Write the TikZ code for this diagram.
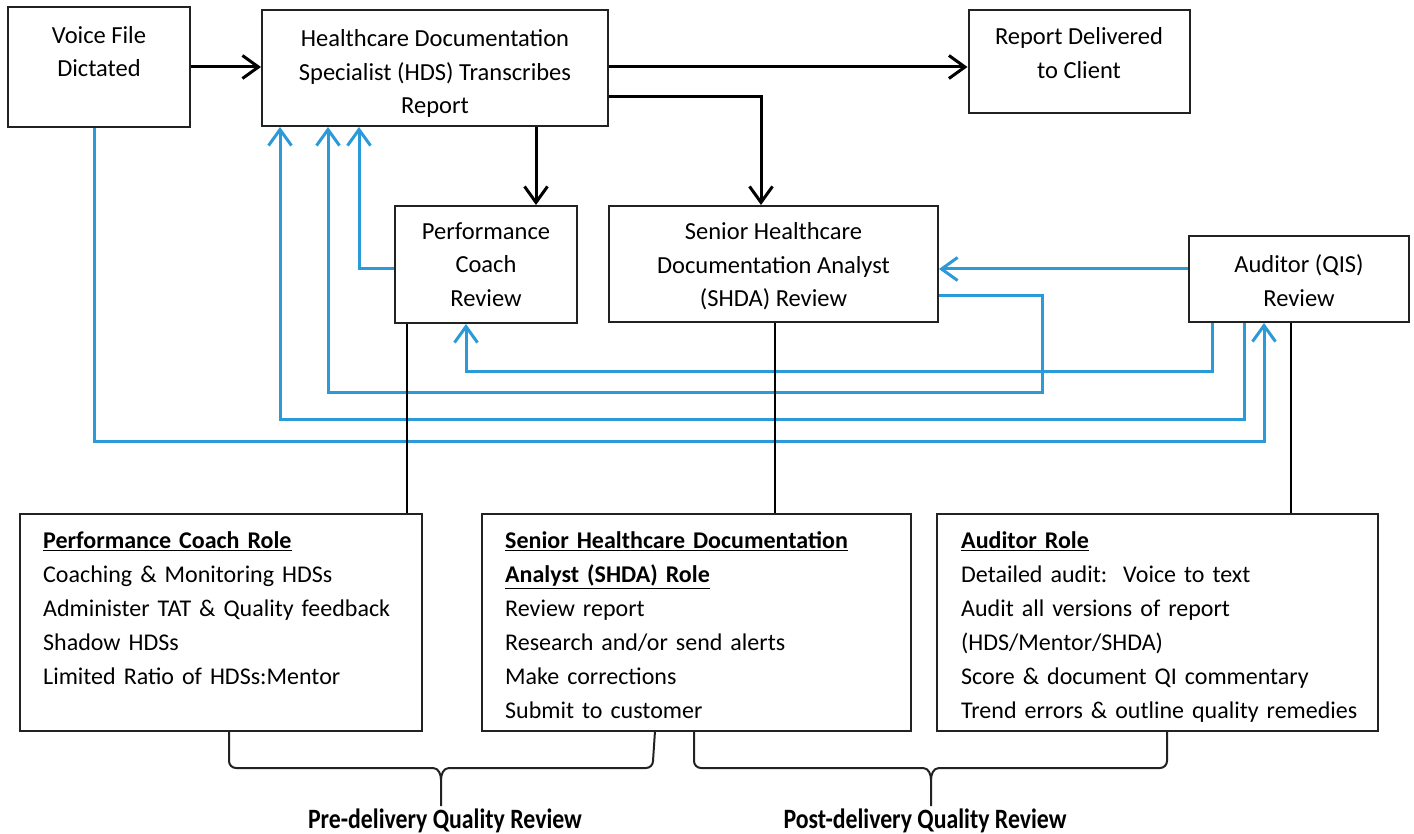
\documentclass[tikz,border=0pt]{standalone}
\usepackage{fontspec}
\setmainfont{Carlito}
\newfontfamily\condfont[FakeStretch=0.85]{Carlito}
\usetikzlibrary{arrows.meta}
\definecolor{cblue}{RGB}{43,154,216}
\definecolor{edge}{RGB}{34,34,34}
\begin{document}
\begin{tikzpicture}[x=1pt,y=-1pt,
  box/.style={draw=edge, line width=2pt, inner sep=0pt},
  ttext/.style={inner sep=0pt, anchor=north, align=center, font=\fontsize{24.5}{33.5}\selectfont},
  rtext/.style={inner sep=0pt, anchor=north west, align=left, text width=#1, font=\fontsize{24}{34}\selectfont},
  flow/.style={draw=black, line width=3pt, -{Straight Barb[length=16pt,width=23pt]}},
  fb/.style={draw=cblue, line width=3pt, -{Straight Barb[length=16pt,width=23pt]}},
  link/.style={draw=black, line width=1.6pt},
  brace/.style={draw=edge, line width=2pt},
  qlabel/.style={inner sep=0pt, anchor=north, font=\condfont\bfseries\fontsize{28}{30}\selectfont},
]
\useasboundingbox (0,0) rectangle (1414,834);

% ---- boxes
\node[box, minimum width=182pt, minimum height=120pt] (voice) at (99,67) {};
\node[box, minimum width=346pt, minimum height=116pt] (hds) at (435,68) {};
\node[box, minimum width=221pt, minimum height=103pt] (report) at (1079,61.5) {};
\node[box, minimum width=182pt, minimum height=117pt] (perf) at (486,264.5) {};
\node[box, minimum width=329pt, minimum height=116pt] (shda) at (773.5,264) {};
\node[box, minimum width=220pt, minimum height=86pt] (aud) at (1299,279) {};
\node[box, minimum width=402pt, minimum height=217pt] (prole) at (221,622.5) {};
\node[box, minimum width=429pt, minimum height=217pt] (srole) at (696.5,622.5) {};
\node[box, minimum width=441pt, minimum height=217pt] (arole) at (1157.5,622.5) {};

% ---- box texts
\node[ttext] (voicet) at (99,26) {Voice File\\Dictated};
\node[ttext] (hdst) at (435,29.5) {Healthcare Documentation\\Specialist (HDS) Transcribes\\Report};
\node[ttext] (reportt) at (1079,27.5) {Report Delivered\\to Client};
\node[ttext] (perft) at (486,222.5) {Performance\\Coach\\Review};
\node[ttext] (shdat) at (773.5,222.5) {Senior Healthcare\\Documentation Analyst\\(SHDA) Review};
\node[ttext] (audt) at (1299,254.5) {Auditor (QIS)\\Review};

\node[rtext=375pt] (prolet) at (43,531.5) {\textbf{\underline{Performance Coach Role}}\\
Coaching \& Monitoring HDSs\\
Administer TAT \& Quality feedback\\
Shadow HDSs\\
Limited Ratio of HDSs:Mentor};
\node[rtext=400pt] (srolet) at (505,531.5) {\textbf{\underline{Senior Healthcare Documentation}}\\
\textbf{\underline{Analyst (SHDA) Role}}\\
Review report\\
Research and/or send alerts\\
Make corrections\\
Submit to customer};
\node[rtext=415pt] (arolet) at (961,531.5) {\textbf{\underline{Auditor Role}}\\
Detailed audit:\ \ Voice to text\\
Audit all versions of report\\
(HDS/Mentor/SHDA)\\
Score \& document QI commentary\\
Trend errors \& outline quality remedies};

% ---- waypoints
\coordinate (perfin) at ([xshift=50pt]perf.north);
\coordinate (s2) at (1042,392);
\coordinate (a1) at (466,371);
\coordinate (a2) at (280,419);
\coordinate (v1) at (1264,441);

% ---- blue feedback connectors
\draw[fb] ([yshift=-4.5pt]perf.west) -| ([xshift=-76pt]hds.south);
\draw[fb] ([yshift=-32pt]shda.east) -| (s2) -| ([xshift=-107pt]hds.south);
\draw[fb] ([xshift=-87pt]aud.south) |- (a1) -- (a1 |- perf.south);
\draw[fb] ([xshift=-55pt]aud.south) |- (a2) -- (a2 |- hds.south);
\draw[fb] ([xshift=-5pt]voice.south) |- (v1) -- (v1 |- aud.south);
\draw[fb] ([yshift=10pt]aud.west) -- ([yshift=10pt]aud.west -| shda.east);

% ---- black flow connectors
\draw[flow] (voice.east) -- (voice.east -| hds.west);
\draw[flow] (voice.east -| hds.east) -- (voice.east -| report.west);
\draw[flow] ([yshift=-29pt]hds.east) -| ([xshift=-12.5pt]shda.north);
\draw[flow] (perfin |- hds.south) -- (perfin);

% ---- links to role boxes
\draw[link] ([xshift=-79pt]perf.south) -- ([xshift=-79pt]perf.south |- prole.north);
\draw[link] ([xshift=1.5pt]shda.south) -- ([xshift=1.5pt]shda.south |- srole.north);
\draw[link] ([xshift=-8pt]aud.south) -- ([xshift=-8pt]aud.south |- arole.north);

% ---- braces
\coordinate (b1m) at (441,806);
\coordinate (b2m) at (931,806);
\draw[brace] (229,731) -- (229,761) to[out=-90,in=180] (236,768) -- (433,768)
  to[out=0,in=90] (441,780) -- (b1m);
\draw[brace] (441,780) to[out=90,in=180] (449,768) -- (646,768)
  to[out=0,in=-90] (653,761) -- (655,731);
\draw[brace] (694,731) -- (694,761) to[out=-90,in=180] (701,768) -- (923,768)
  to[out=0,in=90] (931,780) -- (b2m);
\draw[brace] (931,780) to[out=90,in=180] (939,768) -- (1160,768)
  to[out=0,in=-90] (1167,761) -- (1167,731);

\node[qlabel] (pre) at ([xshift=4pt,yshift=-3pt]b1m) {Pre-delivery Quality Review};
\node[qlabel] (post) at ([xshift=-6pt,yshift=-3pt]b2m) {Post-delivery Quality Review};
\end{tikzpicture}
\end{document}
